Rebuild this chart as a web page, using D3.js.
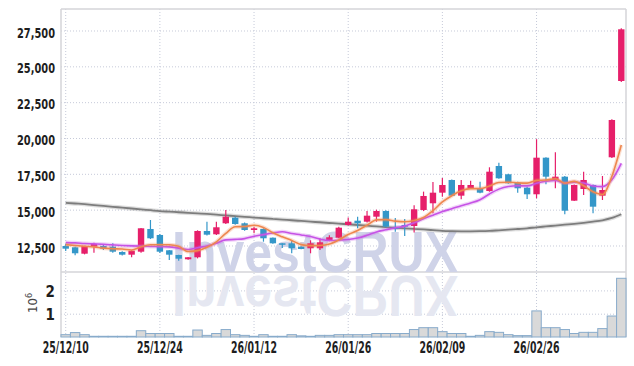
<!DOCTYPE html>
<html>
<head>
<meta charset="utf-8">
<script src="https://cdn.jsdelivr.net/npm/d3@7"></script>
<style>
  body { margin: 0; background: #fff; }
  svg { display: block; }
  .axis text { font-family: "DejaVu Sans Condensed", "Liberation Sans Narrow", sans-serif; font-weight: bold; font-size: 15px; fill: #1e1e1e; }
  .axis path, .axis line { display: none; }
  .grid line { stroke: #c6cad9; stroke-dasharray: 1,2; }
  .grid path { display: none; }
</style>
</head>
<body>
<script>
// trading days
var dates = ["25/12/10","25/12/11","25/12/12","25/12/15","25/12/16","25/12/17","25/12/18","25/12/19","25/12/22","25/12/23",
  "25/12/24","25/12/26","25/12/29","25/12/30","26/01/02","26/01/05","26/01/06","26/01/07","26/01/08","26/01/09",
  "26/01/12","26/01/13","26/01/14","26/01/15","26/01/16","26/01/19","26/01/20","26/01/21","26/01/22","26/01/23",
  "26/01/26","26/01/27","26/01/28","26/01/29","26/01/30","26/02/02","26/02/03","26/02/04","26/02/05","26/02/06",
  "26/02/09","26/02/10","26/02/11","26/02/12","26/02/13","26/02/19","26/02/20","26/02/23","26/02/24","26/02/25",
  "26/02/26","26/02/27","26/03/03","26/03/04","26/03/05","26/03/06","26/03/09","26/03/10","26/03/11","26/03/12"];

var opens = [12465,12374,11928,12416,12465,12416,12046,11858,12067,13651,
  13233,12165,11837,11537,11677,13512,13281,14049,14440,14049,
  13581,13651,13044,12653,12653,12416,12305,12305,12884,13044,
  13930,14230,14160,14509,14907,13770,13930,13860,14977,15444,
  16184,17070,15975,16491,16491,16300,18047,17468,16881,16533,
  16072,18626,17070,17300,15626,16442,16721,15975,18654,23977];
var highs = [12605,12430,12480,12695,12605,12653,12090,12160,13720,14279,
  13300,12190,11860,11700,13560,14160,14160,14977,14500,14100,
  13812,13700,13060,12660,12884,12440,12863,13000,13210,13800,
  14460,14509,14900,15000,14950,14419,14349,15305,16258,16930,
  17210,17100,17070,17021,16950,17956,18277,17500,16950,16600,
  19917,18650,19003,17350,16750,17649,16750,17349,21300,27650];
var lows = [12116,11816,11880,11998,12186,12000,11800,11677,12000,12950,
  11980,11488,11440,11500,11600,13200,13240,14000,13950,13530,
  13351,12765,12620,12326,11956,12230,11956,12186,12800,13000,
  13900,13700,14100,14160,13780,13460,13160,13400,14900,14747,
  15905,15950,15720,16460,16150,16250,17150,16800,16184,15744,
  15793,16770,16491,14677,15600,16023,14747,15675,18600,23900];
var closes = [12277,11956,12465,12605,12277,12067,11858,12137,13700,13002,
  12067,11858,11579,11677,13512,13254,13770,14509,14000,13581,
  13700,13002,12653,12584,12305,12256,12653,12723,13072,13742,
  14160,14049,14579,14907,13812,13651,13812,15026,15954,16184,
  16721,15975,16721,16721,16184,17649,17188,16840,16491,16072,
  18626,17300,17300,14928,16721,17070,15207,16372,21256,27584];
var volume = [100000,190000,100000,30000,30000,30000,30000,30000,270000,150000,
  150000,150000,30000,30000,300000,70000,150000,320000,100000,70000,
  30000,100000,30000,30000,100000,50000,30000,70000,70000,100000,
  100000,100000,100000,150000,150000,150000,150000,320000,400000,400000,
  230000,150000,150000,30000,70000,230000,200000,100000,60000,60000,
  1120000,400000,400000,320000,150000,200000,200000,360000,900000,2520000];

// moving averages as drawn
var ma5 = [12560,12500,12450,12400,12316,12274,12254,12189,12408,12553,
  12553,12553,12441,12080,12139,12376,12758,13344,13809,13823,
  13912,13758,13387,13104,12849,12560,12490,12504,12602,12889,
  13270,13549,13920,14287,14301,14200,14152,14242,14451,14925,
  15539,15972,16311,16464,16464,16650,16893,16916,16870,16848,
  17043,17066,17158,16845,16975,16664,16245,16060,17325,19512];
var ma10 = [12700,12680,12640,12610,12580,12540,12500,12470,12450,12434,
  12413,12404,12315,12222,12346,12464,12656,12893,12923,12981,
  13144,13258,13366,13457,13336,13236,13124,12946,12853,12869,
  12915,13020,13212,13445,13595,13735,13851,14081,14369,14613,
  14870,15062,15276,15458,15695,16095,16432,16614,16667,16656,
  16847,16979,17037,16858,16912,16854,16656,16609,17085,18236];
var maLong = [15480,15430,15380,15320,15260,15200,15140,15080,15020,14960,
  14900,14860,14820,14780,14740,14700,14650,14600,14550,14500,
  14450,14400,14350,14300,14260,14210,14160,14120,14070,14020,
  13980,13930,13880,13830,13780,13740,13700,13660,13620,13570,
  13520,13500,13490,13490,13500,13520,13560,13600,13650,13700,
  13770,13830,13890,13950,14010,14080,14160,14260,14420,14680];

var xTicks = ["25/12/10","25/12/24","26/01/12","26/01/26","26/02/09","26/02/26"];
var priceTicks = [12500,15000,17500,20000,22500,25000,27500];
var volTicks = [1000000,2000000];

var W = 634, H = 366;
var plotL = 61, plotR = 626, plotT = 9, plotM = 272, plotB = 337;

var svg = d3.select("body").append("svg")
  .attr("width", W)
  .attr("height", H);

var x = d3.scaleBand().domain(dates).range([plotL, plotR]).padding(0);
var cx = function(d) { return x(d) + x.bandwidth() / 2; };
var y = d3.scaleLinear().domain([10650, 29000]).range([plotM, plotT]);
var yv = d3.scaleLinear().domain([0, 2790000]).range([plotB, plotM]);

// grid
svg.append("g").attr("class", "grid")
  .attr("transform", "translate(" + plotL + ",0)")
  .call(d3.axisLeft(y).tickValues(priceTicks).tickSize(-(plotR - plotL)).tickFormat(""));
svg.append("g").attr("class", "grid")
  .attr("transform", "translate(" + plotL + ",0)")
  .call(d3.axisLeft(yv).tickValues(volTicks).tickSize(-(plotR - plotL)).tickFormat(""));
svg.append("g").attr("class", "grid")
  .attr("transform", "translate(0," + plotB + ")")
  .call(d3.axisBottom(x).tickValues(xTicks).tickSize(-(plotB - plotT)).tickFormat(""));

// frame
var frame = svg.append("g").attr("stroke", "#d4d4d8").attr("stroke-width", 1.5);
frame.append("line").attr("x1", plotL).attr("x2", plotR).attr("y1", plotT).attr("y2", plotT);
frame.append("line").attr("x1", plotL).attr("x2", plotR).attr("y1", plotM).attr("y2", plotM);
frame.append("line").attr("x1", plotL).attr("x2", plotL).attr("y1", plotT).attr("y2", plotB);
frame.append("line").attr("x1", plotR).attr("x2", plotR).attr("y1", plotT).attr("y2", plotB);

// watermark + reflection
var wm = svg.append("g").attr("font-family", "Liberation Sans, Arial, sans-serif")
  .attr("font-weight", "bold").attr("font-size", 58);
wm.append("text").attr("x", 172).attr("y", 272)
  .attr("textLength", 286).attr("lengthAdjust", "spacingAndGlyphs")
  .attr("fill", "#cfd3e8").text("InvestCRUX");
wm.append("text").attr("x", 172).attr("y", -276)
  .attr("transform", "scale(1,-1)")
  .attr("textLength", 286).attr("lengthAdjust", "spacingAndGlyphs")
  .attr("fill", "#e5e7f1").text("InvestCRUX");

// volume
svg.append("g").selectAll("rect")
  .data(volume)
  .enter().append("rect")
  .attr("x", function(d, i) { return x(dates[i]); })
  .attr("width", x.bandwidth())
  .attr("y", function(d) { return yv(d); })
  .attr("height", function(d) { return plotB - yv(d); })
  .attr("fill", "#d9d9d9")
  .attr("stroke", "#88abcb")
  .attr("stroke-width", 1);

// moving averages
function drawLine(vals, color, w) {
  var line = d3.line()
    .x(function(d, i) { return cx(dates[i]); })
    .y(function(d) { return y(d); })
    .curve(d3.curveMonotoneX);
  svg.append("path").datum(vals)
    .attr("d", line).attr("fill", "none")
    .attr("stroke", color).attr("stroke-opacity", 0.25).attr("stroke-width", w + 2.5);
  svg.append("path").datum(vals)
    .attr("d", line).attr("fill", "none")
    .attr("stroke", color).attr("stroke-width", w);
}
drawLine(maLong, "#7d7d7d", 1.8);

// candles
var up = "#e61f6a", down = "#3497c9";
var candles = svg.append("g").selectAll("g")
  .data(dates)
  .enter().append("g");
candles.append("line")
  .attr("x1", function(d) { return cx(d); })
  .attr("x2", function(d) { return cx(d); })
  .attr("y1", function(d, i) { return y(highs[i]); })
  .attr("y2", function(d, i) { return y(lows[i]); })
  .attr("stroke", function(d, i) { return closes[i] >= opens[i] ? up : down; })
  .attr("stroke-width", 1.2);
candles.append("rect")
  .attr("x", function(d) { return cx(d) - 3.2; })
  .attr("width", 6.4)
  .attr("y", function(d, i) { return y(Math.max(opens[i], closes[i])); })
  .attr("height", function(d, i) { return Math.max(1.5, Math.abs(y(opens[i]) - y(closes[i]))); })
  .attr("fill", function(d, i) { return closes[i] >= opens[i] ? up : down; });

drawLine(ma10, "#c653e6", 1.6);
drawLine(ma5, "#ee874f", 1.6);

// axes (condensed labels)
svg.append("g").attr("class", "axis")
  .attr("transform", "translate(" + (plotL - 6) + ",2)")
  .call(d3.axisLeft(y).tickValues(priceTicks).tickSize(0).tickPadding(0).tickFormat(d3.format(",")))
  .selectAll("text")
  .style("font-size", "14.5px")
  .attr("textLength", 38).attr("lengthAdjust", "spacingAndGlyphs");
svg.append("g").attr("class", "axis")
  .attr("transform", "translate(" + (plotL - 6) + ",1)")
  .call(d3.axisLeft(yv).tickValues(volTicks).tickSize(0).tickPadding(0).tickFormat(function(d) { return d / 1e6; }));
svg.append("g").attr("class", "axis")
  .attr("transform", "translate(0," + plotB + ")")
  .call(d3.axisBottom(x).tickValues(xTicks).tickSize(0).tickPadding(5))
  .selectAll("text")
  .attr("textLength", 46).attr("lengthAdjust", "spacingAndGlyphs");

var unit = svg.append("text")
  .attr("transform", "translate(37,313) rotate(-90)")
  .attr("font-family", "DejaVu Sans Condensed, sans-serif")
  .attr("font-size", 13).attr("fill", "#444");
unit.append("tspan").text("10");
unit.append("tspan").attr("dy", -5).attr("font-size", 9).text("6");
</script>
</body>
</html>
